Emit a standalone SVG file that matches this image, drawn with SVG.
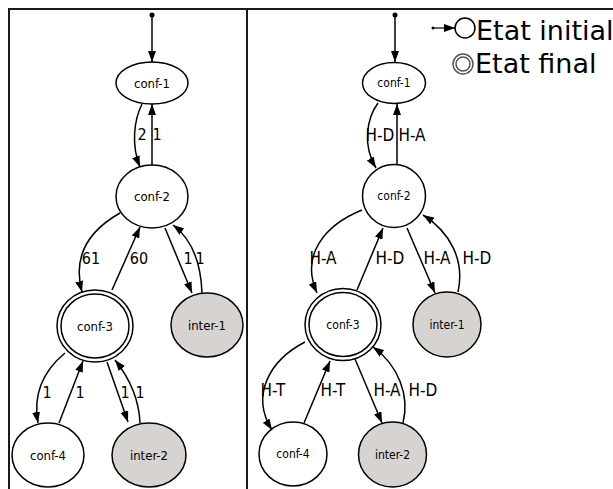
<svg xmlns="http://www.w3.org/2000/svg" width="613" height="489" viewBox="0 0 613 489">
<defs>
<marker id="ah" markerUnits="userSpaceOnUse" markerWidth="11" markerHeight="8" refX="11" refY="4" orient="auto">
<path d="M0,0 L11,4 L0,8 z" fill="#000"/>
</marker>
<style>
.frame{fill:none;stroke:#1a1a1a;stroke-width:2}
.n{fill:#fff;stroke:#000;stroke-width:1.5}
.g{fill:#d6d3d1;stroke:#000;stroke-width:1.5}
.e{fill:none;stroke:#000;stroke-width:1.5;marker-end:url(#ah)}
.t{font-family:"DejaVu Sans Condensed","DejaVu Sans",sans-serif;font-size:13px;text-anchor:middle;fill:#000}
.tr{font-family:"DejaVu Sans Condensed","DejaVu Sans",sans-serif;font-size:12px;text-anchor:middle;fill:#000}
.l{font-family:"DejaVu Sans Condensed","DejaVu Sans",sans-serif;font-size:16px;text-anchor:middle;fill:#000}
.lr{font-family:"DejaVu Sans Condensed","DejaVu Sans",sans-serif;font-size:17px;text-anchor:middle;fill:#000}
.lg{font-family:"DejaVu Sans",sans-serif;font-size:27px;fill:#000}
</style>
</defs>
<rect width="613" height="489" fill="#fff"/>
<g id="frame">
<path class="frame" d="M9,489 L9,9 L613,9 M247,9 L247,489"/>
</g>
<g id="legend">
<line x1="433" y1="28" x2="455" y2="28" stroke="#000" stroke-width="1.2" marker-end="url(#ah)"/>
<circle cx="433" cy="28" r="1.5" fill="#000"/>
<circle cx="465" cy="28" r="10" fill="#fff" stroke="#000" stroke-width="1.5"/>
<text class="lg" x="476" y="40">Etat initial</text>
<circle cx="463" cy="64" r="10" fill="#fff" stroke="#555" stroke-width="1.5"/>
<circle cx="463" cy="64" r="7" fill="#fff" stroke="#555" stroke-width="1.5"/>
<text class="lg" x="475" y="73">Etat final</text>
</g>
<g id="connectors">
<circle cx="152" cy="15" r="2.5" fill="#000"/>
<path class="e" d="M152,15 L152,62"/>
<path class="e" d="M142,104 C134,120 131,145 140,167"/>
<path class="e" d="M152,165 L152,104"/>
<path class="e" d="M120,213 C90,230 72,255 82,292"/>
<path class="e" d="M112,290 L140,227"/>
<path class="e" d="M165,228 L192,293"/>
<path class="e" d="M202,293 C201,265 193,240 173,225"/>
<path class="e" d="M65,353 C42,372 33,395 38,423"/>
<path class="e" d="M59,423 L83,361"/>
<path class="e" d="M107,362 L128,422"/>
<path class="e" d="M140,423 C139,400 131,380 115,360"/>
<text class="l" x="142" y="140">2</text>
<text class="l" x="157" y="140">1</text>
<text class="l" x="91" y="264">61</text>
<text class="l" x="139" y="264">60</text>
<text class="l" x="188" y="264">1</text>
<text class="l" x="200" y="264">1</text>
<text class="l" x="47" y="398">1</text>
<text class="l" x="80" y="398">1</text>
<text class="l" x="125" y="398">1</text>
<text class="l" x="140" y="398">1</text>
<circle cx="395" cy="15" r="2.5" fill="#000"/>
<path class="e" d="M395,15 L395,62"/>
<path class="e" d="M378,103 C367,118 362,145 376,168"/>
<path class="e" d="M397,165 L397,104"/>
<path class="e" d="M362,210 C325,225 300,255 317,293"/>
<path class="e" d="M357,290 L383,228"/>
<path class="e" d="M407,228 L435,293"/>
<path class="e" d="M458,292 C465,260 450,232 423,215"/>
<path class="e" d="M305,342 C270,360 250,395 272,430"/>
<path class="e" d="M304,423 L330,361"/>
<path class="e" d="M355,359 L382,423"/>
<path class="e" d="M403,423 C410,395 398,365 373,347"/>
<text class="lr" x="380" y="141">H-D</text>
<text class="lr" x="412" y="141">H-A</text>
<text class="lr" x="323" y="264">H-A</text>
<text class="lr" x="390" y="264">H-D</text>
<text class="lr" x="437" y="264">H-A</text>
<text class="lr" x="477" y="264">H-D</text>
<text class="lr" x="273" y="396">H-T</text>
<text class="lr" x="333" y="396">H-T</text>
<text class="lr" x="387" y="396">H-A</text>
<text class="lr" x="423" y="396">H-D</text>
</g>
<g id="L-conf-1"><ellipse class="n" cx="152" cy="83" rx="36" ry="21"/><text class="t" x="152" y="87.5">conf-1</text></g>
<g id="L-conf-2"><ellipse class="n" cx="152" cy="196.5" rx="36" ry="31.5"/><text class="t" x="152" y="201">conf-2</text></g>
<g id="L-conf-3"><ellipse class="n" cx="95" cy="326" rx="38" ry="36"/><ellipse class="n" cx="95" cy="326" rx="34" ry="32"/><text class="t" x="95" y="330.5">conf-3</text></g>
<g id="L-inter-1"><ellipse class="g" cx="207" cy="325" rx="36" ry="32"/><text class="t" x="207" y="329.5">inter-1</text></g>
<g id="L-conf-4"><ellipse class="n" cx="48" cy="455" rx="36" ry="32"/><text class="t" x="48" y="459.5">conf-4</text></g>
<g id="L-inter-2"><ellipse class="g" cx="149" cy="455" rx="37" ry="32"/><text class="t" x="149" y="459.5">inter-2</text></g>
<g id="R-conf-1"><ellipse class="n" cx="394" cy="83" rx="31.5" ry="20.5"/><text class="tr" x="394" y="87">conf-1</text></g>
<g id="R-conf-2"><ellipse class="n" cx="394" cy="196" rx="31.5" ry="31.5"/><text class="tr" x="394" y="200">conf-2</text></g>
<g id="R-conf-3"><ellipse class="n" cx="343" cy="324.5" rx="38" ry="36"/><ellipse class="n" cx="343" cy="324.5" rx="34" ry="32"/><text class="tr" x="343" y="328.5">conf-3</text></g>
<g id="R-inter-1"><ellipse class="g" cx="447" cy="324.5" rx="34" ry="32.5"/><text class="tr" x="447" y="328.5">inter-1</text></g>
<g id="R-conf-4"><ellipse class="n" cx="293" cy="454" rx="34" ry="32"/><text class="tr" x="293" y="458">conf-4</text></g>
<g id="R-inter-2"><ellipse class="g" cx="392.5" cy="454.5" rx="34" ry="32.5"/><text class="tr" x="392.5" y="458.5">inter-2</text></g>
</svg>
